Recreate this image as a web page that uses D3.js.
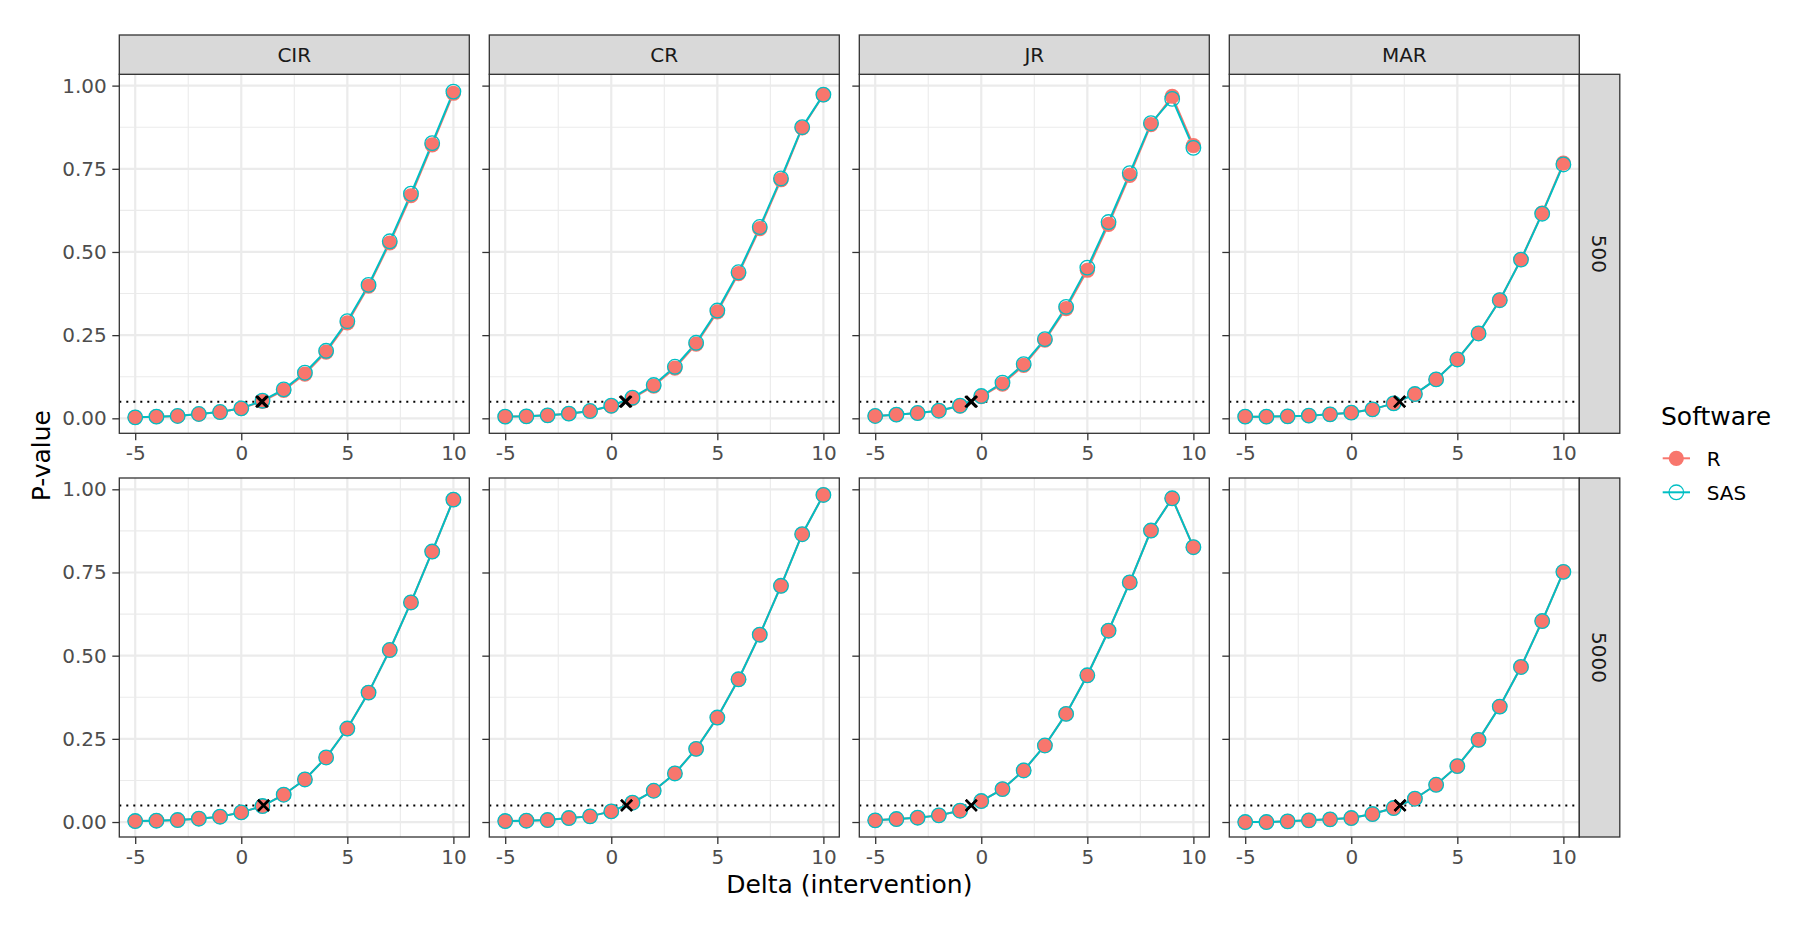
<!DOCTYPE html>
<meta charset="utf-8">
<head>
	<script src="https://d3js.org/d3.v7.min.js"></script>
	<style>
		body {
			margin: 0;
			background: #fff;
		}
		svg text {
			font-family: "DejaVu Sans", sans-serif;
		}
		.axis path {
			display: none;
		}
		.axis .tick line {
			stroke: #333333;
			stroke-width: 1.3;
		}
		.axis .tick text {
			fill: #4d4d4d;
			font-size: 20px;
		}
	</style>
</head>

<body>
	<div id="chart"></div>
</body>

<script type="text/javascript">
	// facets and x values
	var methods = ["CIR", "CR", "JR", "MAR"];
	var sampleSizes = ["500", "5000"];
	var software = ["R", "SAS"];
	var deltas = [-5, -4, -3, -2, -1, 0, 1, 2, 3, 4, 5, 6, 7, 8, 9, 10];
	var yTicks = [0, 0.25, 0.5, 0.75, 1];
	var yMinor = [0.125, 0.375, 0.625, 0.875];
	var xTicks = [-5, 0, 5, 10];
	var xMinor = [-2.5, 2.5, 7.5];
	var alpha = 0.05;

	// p-values, n = 500
	var cir500R   = [0.003, 0.005, 0.007, 0.013, 0.019, 0.030, 0.051, 0.084, 0.133, 0.199, 0.287, 0.397, 0.527, 0.669, 0.822, 0.977];
	var cir500SAS = [0.003, 0.005, 0.007, 0.013, 0.019, 0.030, 0.053, 0.087, 0.137, 0.203, 0.292, 0.401, 0.532, 0.675, 0.827, 0.982];
	var cr500R    = [0.005, 0.006, 0.009, 0.014, 0.022, 0.037, 0.060, 0.097, 0.151, 0.223, 0.320, 0.435, 0.570, 0.717, 0.873, 0.972];
	var cr500SAS  = [0.005, 0.006, 0.009, 0.014, 0.022, 0.038, 0.062, 0.100, 0.155, 0.227, 0.324, 0.439, 0.575, 0.721, 0.875, 0.973];
	var jr500R    = [0.007, 0.011, 0.016, 0.023, 0.037, 0.065, 0.103, 0.159, 0.235, 0.330, 0.445, 0.583, 0.730, 0.883, 0.968, 0.820];
	var jr500SAS  = [0.007, 0.011, 0.016, 0.023, 0.038, 0.067, 0.107, 0.163, 0.238, 0.335, 0.453, 0.590, 0.737, 0.887, 0.960, 0.813];
	var mar500R   = [0.005, 0.005, 0.006, 0.008, 0.012, 0.017, 0.027, 0.045, 0.073, 0.117, 0.177, 0.255, 0.355, 0.477, 0.617, 0.767];
	var mar500SAS = [0.005, 0.005, 0.006, 0.008, 0.012, 0.017, 0.027, 0.045, 0.073, 0.117, 0.177, 0.255, 0.355, 0.477, 0.615, 0.763];

	// p-values, n = 5000
	var cir5000R   = [0.003, 0.004, 0.006, 0.010, 0.016, 0.029, 0.048, 0.082, 0.128, 0.194, 0.281, 0.389, 0.517, 0.660, 0.813, 0.969];
	var cir5000SAS = [0.003, 0.004, 0.006, 0.010, 0.016, 0.029, 0.048, 0.082, 0.128, 0.194, 0.281, 0.389, 0.517, 0.660, 0.813, 0.969];
	var cr5000R    = [0.003, 0.004, 0.006, 0.012, 0.017, 0.032, 0.058, 0.094, 0.146, 0.220, 0.314, 0.429, 0.563, 0.710, 0.865, 0.983];
	var cr5000SAS  = [0.003, 0.004, 0.006, 0.012, 0.017, 0.032, 0.058, 0.094, 0.146, 0.220, 0.314, 0.429, 0.563, 0.710, 0.865, 0.983];
	var jr5000R    = [0.005, 0.009, 0.013, 0.020, 0.034, 0.063, 0.099, 0.155, 0.230, 0.325, 0.441, 0.575, 0.720, 0.876, 0.973, 0.826];
	var jr5000SAS  = [0.005, 0.009, 0.013, 0.020, 0.034, 0.063, 0.099, 0.155, 0.230, 0.325, 0.441, 0.575, 0.720, 0.876, 0.973, 0.826];
	var mar5000R   = [0.000, 0.000, 0.002, 0.005, 0.008, 0.012, 0.024, 0.042, 0.070, 0.112, 0.168, 0.247, 0.347, 0.466, 0.604, 0.752];
	var mar5000SAS = [0.000, 0.000, 0.002, 0.005, 0.008, 0.012, 0.024, 0.042, 0.070, 0.112, 0.168, 0.247, 0.347, 0.466, 0.604, 0.752];

	// delta where the p-value crosses alpha, per facet (R, SAS)
	var cross500R    = [1.00, 0.70, -0.45, 2.28];
	var cross500SAS  = [0.95, 0.65, -0.50, 2.28];
	var cross5000R   = [1.05, 0.72, -0.47, 2.30];
	var cross5000SAS = [1.05, 0.72, -0.47, 2.30];

	var series = {
		"500":  { R: [cir500R, cr500R, jr500R, mar500R], SAS: [cir500SAS, cr500SAS, jr500SAS, mar500SAS] },
		"5000": { R: [cir5000R, cr5000R, jr5000R, mar5000R], SAS: [cir5000SAS, cr5000SAS, jr5000SAS, mar5000SAS] }
	};
	var crosses = {
		"500":  { R: cross500R, SAS: cross500SAS },
		"5000": { R: cross5000R, SAS: cross5000SAS }
	};

	var colors = d3.scaleOrdinal().domain(software).range(["#F8766D", "#00BFC4"]);
	var radius = { R: 7.6, SAS: 7.3 };

	var W = 1812, H = 936;
	var panelLeft = 119.3, panelTop = 74.3,
		panelW = 350, panelH = 359,
		gapX = 20, gapY = 44.7,
		stripH = 39.3, stripW = 40.5;

	var x = d3.scaleLinear().domain([-5.75, 10.75]).range([0, panelW]);
	var y = d3.scaleLinear().domain([-0.045, 1.034]).range([panelH, 0]);

	var svg = d3.select("#chart").append("svg")
		.attr("width", W)
		.attr("height", H);

	svg.append("rect").attr("width", W).attr("height", H).style("fill", "#fff");

	var line = d3.line()
		.x(function(d) { return x(d.x); })
		.y(function(d) { return y(d.y); });

	sampleSizes.forEach(function(n, row) {
		methods.forEach(function(m, col) {
			var px = panelLeft + col * (panelW + gapX),
				py = panelTop + row * (panelH + gapY);

			var g = svg.append("g")
				.attr("transform", "translate(" + px + "," + py + ")");

			g.append("rect")
				.attr("width", panelW)
				.attr("height", panelH)
				.style("fill", "#fff");

			// minor grid
			g.selectAll(".ymin").data(yMinor).enter().append("line")
				.attr("x1", 0).attr("x2", panelW)
				.attr("y1", function(d) { return y(d); })
				.attr("y2", function(d) { return y(d); })
				.style("stroke", "#ebebeb").style("stroke-width", 1.1);
			g.selectAll(".xmin").data(xMinor).enter().append("line")
				.attr("y1", 0).attr("y2", panelH)
				.attr("x1", function(d) { return x(d); })
				.attr("x2", function(d) { return x(d); })
				.style("stroke", "#ebebeb").style("stroke-width", 1.1);

			// major grid
			g.selectAll(".ymaj").data(yTicks).enter().append("line")
				.attr("x1", 0).attr("x2", panelW)
				.attr("y1", function(d) { return y(d); })
				.attr("y2", function(d) { return y(d); })
				.style("stroke", "#ebebeb").style("stroke-width", 2.2);
			g.selectAll(".xmaj").data(xTicks).enter().append("line")
				.attr("y1", 0).attr("y2", panelH)
				.attr("x1", function(d) { return x(d); })
				.attr("x2", function(d) { return x(d); })
				.style("stroke", "#ebebeb").style("stroke-width", 2.2);

			// alpha line
			g.append("line")
				.attr("x1", 0).attr("x2", panelW)
				.attr("y1", y(alpha)).attr("y2", y(alpha))
				.style("stroke", "#000")
				.style("stroke-width", 2)
				.style("stroke-dasharray", "2,5");

			var pts = {};
			software.forEach(function(s) {
				pts[s] = deltas.map(function(d, i) { return { x: d, y: series[n][s][col][i] }; });
			});

			// lines for both groups first, then points on top
			software.forEach(function(s) {
				g.append("path")
					.datum(pts[s])
					.attr("d", line)
					.style("fill", "none")
					.style("stroke", colors(s))
					.style("stroke-width", 2);
			});

			software.forEach(function(s) {
				g.selectAll(".pt-" + s).data(pts[s]).enter().append("circle")
					.attr("class", "pt-" + s)
					.attr("cx", function(d) { return x(d.x); })
					.attr("cy", function(d) { return y(d.y); })
					.attr("r", radius[s])
					.style("fill", s === "R" ? colors(s) : "none")
					.style("stroke", s === "R" ? "none" : colors(s))
					.style("stroke-width", 1.3);
			});

			// crossing marks
			software.forEach(function(s) {
				var cx = x(crosses[n][s][col]), cy = y(alpha), k = 5.5;
				g.append("path")
					.attr("d", "M" + (cx - k) + "," + (cy - k) + "L" + (cx + k) + "," + (cy + k) +
						"M" + (cx - k) + "," + (cy + k) + "L" + (cx + k) + "," + (cy - k))
					.style("stroke", "#000")
					.style("stroke-width", 2.4)
					.style("fill", "none");
			});

			// panel border
			g.append("rect")
				.attr("width", panelW)
				.attr("height", panelH)
				.style("fill", "none")
				.style("stroke", "#333333")
				.style("stroke-width", 1.3);

			// axes
			var yAxis = d3.axisLeft(y).tickValues(yTicks).tickSize(7).tickPadding(5.5)
				.tickFormat(col === 0 ? d3.format(".2f") : function() { return ""; });
			g.append("g").attr("class", "axis").call(yAxis);

			var xAxis = d3.axisBottom(x).tickValues(xTicks).tickSize(7).tickPadding(5.5)
				.tickFormat(function(d) { return String(d); });
			g.append("g").attr("class", "axis")
				.attr("transform", "translate(0," + panelH + ")")
				.call(xAxis);

			// top strips
			if (row === 0) {
				g.append("rect")
					.attr("y", -stripH)
					.attr("width", panelW)
					.attr("height", stripH)
					.style("fill", "#d9d9d9")
					.style("stroke", "#333333")
					.style("stroke-width", 1.3);
				g.append("text")
					.attr("x", panelW / 2)
					.attr("y", -stripH / 2)
					.attr("dy", "0.36em")
					.style("text-anchor", "middle")
					.style("font-size", "20px")
					.style("fill", "#1a1a1a")
					.text(m);
			}

			// right strips
			if (col === methods.length - 1) {
				g.append("rect")
					.attr("x", panelW)
					.attr("width", stripW)
					.attr("height", panelH)
					.style("fill", "#d9d9d9")
					.style("stroke", "#333333")
					.style("stroke-width", 1.3);
				g.append("text")
					.attr("transform", "translate(" + (panelW + stripW / 2) + "," + (panelH / 2) + ")rotate(90)")
					.attr("dy", "0.36em")
					.style("text-anchor", "middle")
					.style("font-size", "20px")
					.style("fill", "#1a1a1a")
					.text(n);
			}
		});
	});

	// axis titles
	var panelsRight = panelLeft + methods.length * panelW + (methods.length - 1) * gapX;
	var panelsBottom = panelTop + 2 * panelH + gapY;

	svg.append("text")
		.attr("x", (panelLeft + panelsRight) / 2)
		.attr("y", 893)
		.style("text-anchor", "middle")
		.style("font-size", "25px")
		.style("fill", "#000")
		.text("Delta (intervention)");

	svg.append("text")
		.attr("transform", "translate(50," + ((panelTop + panelsBottom) / 2) + ")rotate(-90)")
		.style("text-anchor", "middle")
		.style("font-size", "25px")
		.style("fill", "#000")
		.text("P-value");

	// legend
	var legend = svg.append("g").attr("transform", "translate(1661,0)");

	legend.append("text")
		.attr("x", 0)
		.attr("y", 425)
		.style("font-size", "25px")
		.style("fill", "#000")
		.text("Software");

	var item = legend.selectAll(".item")
		.data(software)
		.enter().append("g")
		.attr("class", "item")
		.attr("transform", function(d, i) { return "translate(0," + (458.3 + i * 34) + ")"; });

	item.append("line")
		.attr("x1", 1.7).attr("x2", 29)
		.style("stroke", function(d) { return colors(d); })
		.style("stroke-width", 2);

	item.append("circle")
		.attr("cx", 15.3)
		.attr("r", function(d) { return radius[d]; })
		.style("fill", function(d) { return d === "R" ? colors(d) : "none"; })
		.style("stroke", function(d) { return d === "R" ? "none" : colors(d); })
		.style("stroke-width", 1.3);

	item.append("text")
		.attr("x", 45.7)
		.attr("dy", "0.36em")
		.style("font-size", "20px")
		.style("fill", "#000")
		.text(function(d) { return d; });
</script>
